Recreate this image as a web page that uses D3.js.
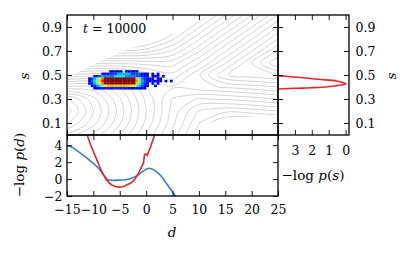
<!DOCTYPE html>
<html><head><meta charset="utf-8">
<script src="https://cdn.jsdelivr.net/npm/d3@7"></script>
<style>body{margin:0;background:#fff}svg{display:block}text{font-family:"DejaVu Serif",serif}</style>
</head><body>
<svg id="c" width="415" height="257"></svg>
<script>
// ---------------- data ----------------
const dTicks = [-15, -10, -5, 0, 5, 10, 15, 20, 25];
const sTicks = [0.1, 0.3, 0.5, 0.7, 0.9];
const pdTicks = [-2, 0, 2, 4];
const psTicks = [3, 2, 1, 0];

// -log p(d): blue and red curves
const blueD = [-15, -14, -13, -12, -11, -10, -9, -8, -7.5, -7, -6, -5, -4, -3, -2, -1, 0, 0.5, 1, 2, 3, 4, 5, 6];
const blueV = [3.9, 3.75, 3.3, 2.85, 2.35, 1.85, 1.25, 0.45, 0.05, -0.12, -0.15, -0.12, -0.08, 0.03, 0.3, 0.72, 1.15, 1.27, 1.22, 0.85, 0.25, -0.65, -1.5, -2.4];
const redD = [-11.2, -11, -10.5, -10, -9.5, -9, -8.5, -8, -7.5, -7, -6.5, -6, -5.5, -5, -4.5, -4, -3.5, -3, -2.5, -2, -1.5, -1, -0.5, -0.3, 0, 0.2, 0.5, 0.8, 1.1, 1.4, 1.7];
const redV = [5.4, 4.9, 4.0, 3.25, 2.5, 1.75, 1.0, 0.4, -0.1, -0.45, -0.7, -0.85, -0.92, -0.95, -0.9, -0.8, -0.65, -0.5, -0.28, 0.1, 0.65, 1.25, 1.9, 2.9, 2.95, 2.8, 3.3, 3.7, 4.3, 4.8, 5.5];

// -log p(s) (right panel)
const psS = [0.505, 0.494, 0.481, 0.464, 0.45, 0.436, 0.425, 0.417, 0.4025, 0.394, 0.389, 0.383, 0.378];
const psV = [4.6, 4.0, 2.82, 1.63, 0.55, 0.15, -0.02, 0.25, 1.04, 2.03, 3.01, 4.0, 4.6];

// background landscape (contoured), grid in d (columns) and s (rows)
const fieldD = [-20, -15, -10, -5, 0, 5, 10, 15, 20, 25, 30];
const fieldS = [-0.1, 0, 0.1, 0.2, 0.3, 0.4, 0.5, 0.6, 0.7, 0.8, 0.9, 1.0, 1.1];
const fieldU = [
  [3.87, 4.01, 5.45, 7.73, 10.49, 13.51, 16.67, 19.83, 22.31, 23.03, 22.61],
  [1.12, 1.33, 3.27, 6.03, 9.14, 12.4, 15.73, 18.71, 20.12, 20.03, 19.61],
  [-1.52, -1.15, 1.61, 4.87, 8.26, 11.69, 14.98, 17.17, 17.46, 17.03, 16.61],
  [-3.25, -2.55, 0.95, 4.45, 7.95, 11.37, 14.08, 14.75, 14.46, 14.03, 13.61],
  [0.54, -1.15, 1.61, 4.87, 8.26, 11.08, 12.1, 11.88, 11.46, 11.03, 10.61],
  [5.68, 3.83, 3.71, 6.03, 9.05, 9.87, 9.31, 8.88, 8.46, 8.03, 7.61],
  [10.93, 9.01, 8.39, 8.61, 10.43, 11.66, 9.13, 6.08, 5.46, 5.03, 4.61],
  [16.19, 14.25, 13.31, 13.16, 13.4, 13.48, 11.13, 8.08, 5.03, 2.03, 1.61],
  [21.48, 19.51, 18.37, 17.93, 17.45, 15.88, 13.13, 10.08, 7.03, 3.98, 0.93],
  [26.77, 24.78, 23.5, 22.83, 20.74, 18.18, 15.13, 12.08, 9.03, 5.98, 2.93],
  [32.06, 30.06, 28.67, 27.84, 23.23, 20.18, 17.13, 14.08, 11.03, 7.98, 4.93],
  [37.35, 35.35, 33.88, 32.91, 25.23, 22.18, 19.13, 16.08, 13.03, 9.98, 6.93],
  [42.65, 40.64, 39.11, 38.03, 27.23, 24.18, 21.13, 18.08, 15.03, 11.98, 8.93]
];
const fieldLevels = d3.range(-3, 27, 1);
// region where the landscape is defined
const maskD = [-15, 8, 11, 15, 20, 25, 25, 12, 8, 4, 0, -2.5, -8, -15];
const maskS = [0, 0, 0.08, 0.13, 0.15, 0.17, 1, 1, 0.9, 0.82, 0.76, 0.73, 0.63, 0.48];

// 2D histogram of the population at t = 10000
const heatDW = 0.5, heatSH = 0.02;
const heatD = d3.range(-11, 5, 0.5);
const heatS = [0.52, 0.50, 0.48, 0.46, 0.44, 0.42, 0.40, 0.38];
const heatV = [
  [0,0,0,0,0,0,0,0, .06,.06,.06,.06,.06,0,.06,.06, .06,.06,.06,0,0,0,0,0, 0,0,0,0,0,0,0,0],
  [0,0,0,0,0,.1,.1,.1, .18,.18,.18,.3,.3,.3,.3,.3, .2,.2,.2,.2,.1,.1,.1,0, .08,0,.08,0,0,0,0,0],
  [0,0,.1,.1,.2,.3,.25,.25, .25,.25,.35,.35,.35,.35,.25,.25, .25,.25,.2,.2,.15,.15,.1,0, .1,.1,.08,0,.08,0,0,0],
  [.08,.15,.3,.45,.6,.8,1,1, 1,1,1,1,1,1,1,1, 1,1,.7,.45,.25,.15,.1,.08, .1,0,.1,.08,0,0,0,0],
  [.1,.2,.35,.5,.7,.9,1,1, 1,1,1,1,1,1,1,1, 1,1,.75,.5,.3,.2,.12,.1, .15,.1,.12,.1,0,.08,0,.08],
  [.08,.15,.3,.45,.6,.8,1,1, 1,1,1,1,1,1,1,1, 1,1,.7,.45,.25,.15,.1,0, .1,0,.08,0,0,0,0,0],
  [0,.08,.15,.25,.35,.5,.65,.7, .72,.72,.7,.7,.72,.72,.7,.7, .68,.6,.45,.3,.2,.12,.08,0, 0,.08,0,0,0,0,0,0],
  [0,0,.08,.1,.12,.15,.15,.15, .15,.15,.15,.15,.15,.15,.15,.12, .12,.12,.1,.1,.08,.08,0,0, 0,0,0,0,0,0,0,0]
];

// ---------------- layout ----------------
const L = 67, R = 278, T = 15, B = 135, B2 = 196, R2 = 349;
const FONT = "DejaVu Serif";
const RED = "#e8252a", BLUE = "#3b7dbd";
const svg = d3.select("#c");

const x = d3.scaleLinear().domain([-15, 25]).range([L, R]);
const y = d3.scaleLinear().domain([0, 1]).range([B, T]);
const y2 = d3.scaleLinear().domain([-2, 5.2]).range([B2, B]);
const x3 = d3.scaleLinear().domain([4, -0.2]).range([R, R2]);

const defs = svg.append("defs");
defs.append("clipPath").attr("id", "cMain").append("rect").attr("x", L).attr("y", T).attr("width", R - L).attr("height", B - T);
defs.append("clipPath").attr("id", "cBot").append("rect").attr("x", L).attr("y", B).attr("width", R - L).attr("height", B2 - B);
defs.append("clipPath").attr("id", "cRight").append("rect").attr("x", R).attr("y", T).attr("width", R2 - R).attr("height", B - T);
const maskPts = maskD.map((d, i) => [x(d), y(maskS[i])]);
defs.append("clipPath").attr("id", "cMask").append("path").attr("d", "M" + maskPts.join("L") + "Z");

// ---------------- contours ----------------
const nx = fieldD.length, ny = fieldS.length;
const gd = d3.scaleLinear().domain([0.5, nx - 0.5]).range([fieldD[0], fieldD[nx - 1]]);
const gs = d3.scaleLinear().domain([0.5, ny - 0.5]).range([fieldS[0], fieldS[ny - 1]]);
const contours = d3.contours().size([nx, ny]).thresholds(fieldLevels)(fieldU.flat());
const cl = d3.line().x(p => x(gd(p[0]))).y(p => y(gs(p[1]))).curve(d3.curveCatmullRomClosed.alpha(0.5));
const gC = svg.append("g").attr("clip-path", "url(#cMain)").append("g").attr("clip-path", "url(#cMask)");
contours.forEach(c => {
  c.coordinates.forEach(poly => poly.forEach(ring => {
    gC.append("path").attr("d", cl(ring.slice(0, -1)))
      .attr("fill", "none").attr("stroke", "#b0b0b0").attr("stroke-width", 0.55);
  }));
});

// ---------------- heatmap ----------------
const jr = d3.scaleLinear().domain([0, 0.35, 0.66, 0.89, 1]).range([0, 0, 1, 1, 0.5]).clamp(true);
const jg = d3.scaleLinear().domain([0, 0.125, 0.375, 0.64, 0.91, 1]).range([0, 0, 1, 1, 0, 0]).clamp(true);
const jb = d3.scaleLinear().domain([0, 0.11, 0.34, 0.65, 1]).range([0.5, 1, 1, 0, 0]).clamp(true);
const jet = v => d3.rgb(jr(v) * 255, jg(v) * 255, jb(v) * 255).toString();
const gH = svg.append("g").attr("clip-path", "url(#cMain)");
heatV.forEach((row, r) => row.forEach((v, i) => {
  if (v <= 0) return;
  const x0 = x(heatD[i]), x1 = x(heatD[i] + heatDW);
  const yT = y(heatS[r] + heatSH), yB = y(heatS[r]);
  gH.append("rect").attr("x", x0).attr("y", yT).attr("width", x1 - x0 + 0.15).attr("height", yB - yT + 0.15)
    .attr("fill", jet(v));
}));

// ---------------- bottom curves ----------------
const gB = svg.append("g").attr("clip-path", "url(#cBot)");
const lb = d3.line().x((d, i) => x(blueD[i])).y((d, i) => y2(blueV[i])).curve(d3.curveMonotoneX);
const lr = d3.line().x((d, i) => x(redD[i])).y((d, i) => y2(redV[i])).curve(d3.curveLinear);
gB.append("path").attr("d", lb(blueD)).attr("fill", "none").attr("stroke", BLUE).attr("stroke-width", 1.6);
gB.append("path").attr("d", lr(redD)).attr("fill", "none").attr("stroke", RED).attr("stroke-width", 1.6);

// ---------------- right curve ----------------
const gR = svg.append("g").attr("clip-path", "url(#cRight)");
const lp = d3.line().x((d, i) => x3(psV[i])).y((d, i) => y(psS[i])).curve(d3.curveCatmullRom);
gR.append("path").attr("d", lp(psS)).attr("fill", "none").attr("stroke", RED).attr("stroke-width", 1.6);

// ---------------- axes ----------------
const TS = 5;
function axis(gen, tx, ty, vals, fmt, pad) {
  const a = gen.tickValues(vals).tickSize(-TS).tickPadding(pad || 4).tickFormat(fmt || "");
  const g = svg.append("g").attr("transform", `translate(${tx},${ty})`).call(a);
  g.select(".domain").remove();
  g.attr("font-family", FONT).attr("font-size", 12.5);
  g.selectAll("line").attr("stroke", "#000").attr("stroke-width", 0.9);
  g.selectAll("text").attr("fill", "#000");
  return g;
}
const f1 = d3.format(".1f"), fi = d3.format("d");
// main panel
axis(d3.axisLeft(y), L, 0, sTicks, f1, 5);
axis(d3.axisRight(y), R, 0, sTicks, null);
axis(d3.axisTop(x), 0, T, dTicks, null);
axis(d3.axisBottom(x), 0, B, dTicks, null);
// right panel
axis(d3.axisLeft(y), R, 0, sTicks, null);
axis(d3.axisRight(y), R2, 0, sTicks, f1, 6.5);
axis(d3.axisTop(x3), 0, T, psTicks, null);
axis(d3.axisBottom(x3), 0, B, psTicks, fi, 11.5);
// bottom panel
axis(d3.axisLeft(y2), L, 0, pdTicks, fi, 4.5);
axis(d3.axisRight(y2), R, 0, pdTicks, null);
axis(d3.axisTop(x), 0, B, dTicks, null);
axis(d3.axisBottom(x), 0, B2, dTicks, fi, 9);

// frames
[[L, T, R - L, B - T], [R, T, R2 - R, B - T], [L, B, R - L, B2 - B]].forEach(r => {
  svg.append("rect").attr("x", r[0]).attr("y", r[1]).attr("width", r[2]).attr("height", r[3])
    .attr("fill", "none").attr("stroke", "#000").attr("stroke-width", 1.3);
});

// ---------------- labels ----------------
function lab(xp, yp, parts, opts) {
  const t = svg.append("text").attr("x", xp).attr("y", yp).attr("font-size", opts.size || 13.5)
    .attr("text-anchor", opts.anchor || "middle").attr("fill", "#000");
  if (opts.rot) t.attr("transform", `rotate(-90,${xp},${yp})`);
  parts.forEach(p => t.append("tspan").attr("font-style", p[1] ? "italic" : "normal").text(p[0]));
  return t;
}
lab(28.5, 76, [["s", 1]], {rot: true});
lab(395.5, 76, [["s", 1]], {rot: true});
lab(172, 236.5, [["d", 1]], {});
lab(24, 165, [["−log ", 0], ["p", 1], ["(", 0], ["d", 1], [")", 0]], {rot: true});
lab(313, 180, [["−log ", 0], ["p", 1], ["(", 0], ["s", 1], [")", 0]], {});
lab(83, 33, [["t", 1], [" = 10000", 0]], {anchor: "start", size: 12.5});
</script>
</body></html>
